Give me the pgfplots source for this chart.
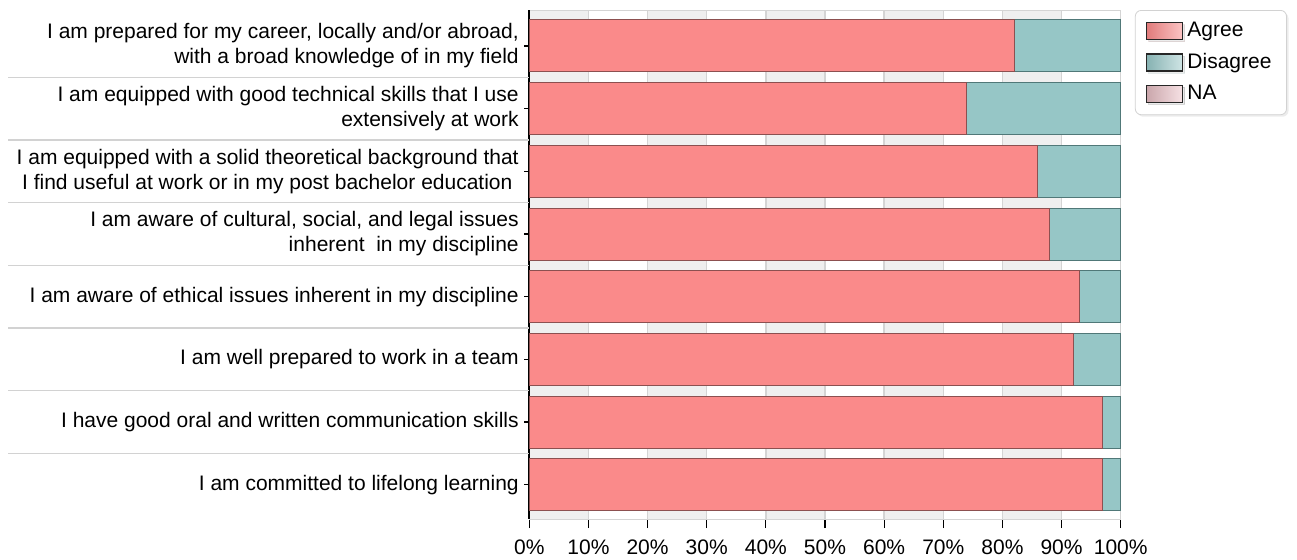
\documentclass[border=0pt]{standalone}
\usepackage{pgfplots}
\pgfplotsset{compat=1.18}
\usepackage{pgfplotstable}
\usepackage{fontspec}
\setmainfont{Liberation Sans}
\usetikzlibrary{shadows,calc}
\definecolor{agree}{RGB}{250,138,138}
\definecolor{agreeD}{RGB}{140,80,80}
\definecolor{dis}{RGB}{150,198,198}
\definecolor{disD}{RGB}{80,120,120}
\definecolor{na}{RGB}{238,196,202}
\definecolor{stripe}{RGB}{239,239,239}
\definecolor{gridc}{RGB}{212,212,212}

\pgfplotstableread{
idx agree disagree
0 82 18
1 74 26
2 86 14
3 88 12
4 93 7
5 92 8
6 97 3
7 97 3
}\data

\begin{document}
\begin{tikzpicture}[font=\fontsize{10.5}{12.5}\selectfont]
\begin{axis}[
  name=ax,
  scale only axis,
  width=295.7pt, height=254.5pt,
  xbar stacked,
  bar width=0.83,
  y dir=reverse,
  xmin=0, xmax=100,
  ymin=-0.574, ymax=7.547,
  xtick={0,10,...,100},
  xticklabels={0\%,10\%,20\%,30\%,40\%,50\%,60\%,70\%,80\%,90\%,100\%},
  ytick={0,...,7},
  yticklabels={
    {I am prepared for my career, locally and/or abroad,\\with a broad knowledge of in my field},
    {I am equipped with good technical skills that I use\\extensively at work},
    {I am equipped with a solid theoretical background that\\I find useful at work or in my post bachelor education\kern0.3em},
    {I am aware of cultural, social, and legal issues\\inherent\ \ in my discipline},
    {I am aware of ethical issues inherent in my discipline},
    {I am well prepared to work in a team},
    {I have good oral and written communication skills},
    {I am committed to lifelong learning}},
  yticklabel style={align=right, font=\fontsize{10.5}{12.5}\selectfont, xshift=2.5pt},
  xticklabel style={font=\fontsize{10.5}{12.5}\selectfont, yshift=-2.5pt},
  tick align=outside,
  xtick pos=bottom, ytick pos=left,
  xtick style={black, line width=0.6pt, /pgfplots/major tick length=4.5pt},
  ytick style={black, line width=0.6pt, /pgfplots/major tick length=2.5pt},
  axis line style={draw=gridc},
  xmajorgrids,
  major grid style={gridc, line width=0.7pt},
  axis background/.style={fill=white, path picture={
    \foreach \a in {0,0.2,0.4,0.6,0.8}{
      \fill[stripe] ($(path picture bounding box.south west)!\a!(path picture bounding box.south east)$)
        rectangle ($(path picture bounding box.north west)!{\a+0.1}!(path picture bounding box.north east)$);
    }}},
  clip=false,
  legend style={at={(1.024,1)}, anchor=north west, draw=gray!35, rounded corners=3pt,
    drop shadow={shadow xshift=1pt, shadow yshift=-1pt, opacity=0.15},
    font=\fontsize{10.5}{12.5}\selectfont, inner xsep=5.5pt, inner ysep=4pt,
    row sep=2.8pt, cells={anchor=west}},
  legend cell align=left,
]
\addplot[fill=agree, draw=agreeD, line width=0.5pt,
  legend image code/.code={\draw[sharp corners, draw=black!85, line width=0.6pt, left color=agree!90!black, right color=agree!50!white] (0pt,-4.25pt) rectangle (18pt,4.25pt);}]
  table[x=agree, y=idx]{\data};
\addlegendentry{Agree}
\addplot[fill=dis, draw=disD, line width=0.5pt,
  legend image code/.code={\draw[sharp corners, draw=black!85, line width=0.6pt, left color=dis!90!black, right color=dis!45!white] (0pt,-4.25pt) rectangle (18pt,4.25pt);}]
  table[x=disagree, y=idx]{\data};
\addlegendentry{Disagree}
\addlegendimage{legend image code/.code={\draw[sharp corners, draw=black!85, line width=0.6pt, left color=na!85!black, right color=na!50!white] (0pt,-4.25pt) rectangle (18pt,4.25pt);}}
\addlegendentry{NA}

\foreach \yy in {0.5,1.5,...,6.5}{
  \edef\tmp{\noexpand\draw[gray!35, line width=0.6pt] (axis cs:-88.1,\yy) -- (axis cs:0,\yy);}
  \tmp
}
\draw[black, line width=1.2pt] (axis cs:0,-0.574) -- (axis cs:0,7.547);
\end{axis}
\pgfresetboundingbox
\path[use as bounding box] (ax.south west) ++(-264.65pt,-20pt) rectangle ++(648.5pt,279.5pt);
\end{tikzpicture}
\end{document}
